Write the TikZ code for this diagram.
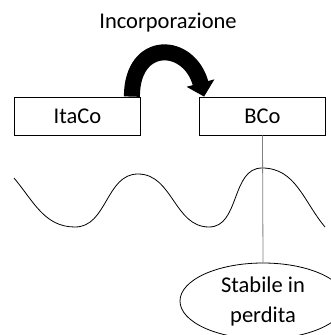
\documentclass[tikz,border=0pt]{standalone}
\usepackage{fontspec}
\setmainfont{Carlito}
\usepackage{tikz}
\usetikzlibrary{arrows.meta, shapes.geometric}

\begin{document}
\begin{tikzpicture}[x=1pt, y=-1pt,
                box/.style={draw, line width=0.8pt, minimum width=126pt, minimum height=38pt, inner sep=0pt},
                bigarrow/.style={line width=16pt, -{Triangle[width=28pt, length=14pt]}}]
                \useasboundingbox (0,0) rectangle (331,335);
                \fontsize{22.5}{26}\selectfont
                \node[anchor=base] (titolo) at (168,28) {Incorporazione};
                \node[box] (itaco) at (77.5,116) {ItaCo};
                \node[box] (bco) at (262.5,116) {BCo};
                \node[draw, ellipse, line width=0.8pt, minimum width=166pt, minimum height=76pt,
                      inner sep=0pt, align=center] (stabile) at (263,301) {Stabile in\\[4pt]perdita};
                % freccia di incorporazione
                \draw[bigarrow] ([xshift=-9pt]itaco.north east) to[out=90, in=105, looseness=2.05]
                        ([xshift=5pt]bco.north west);
                % andamento ciclico
                \draw[line width=0.8pt] (14,178) to[out=-50, in=180] (75,227)
                        to[out=0, in=180] (138,174)
                        to[out=0, in=180] (209,227)
                        to[out=0, in=180] (262,168)
                        to[out=0, in=130] (325,227);
                \draw[gray, line width=0.8pt] (bco.south) -- (stabile.north);
            \end{tikzpicture}
\end{document}
